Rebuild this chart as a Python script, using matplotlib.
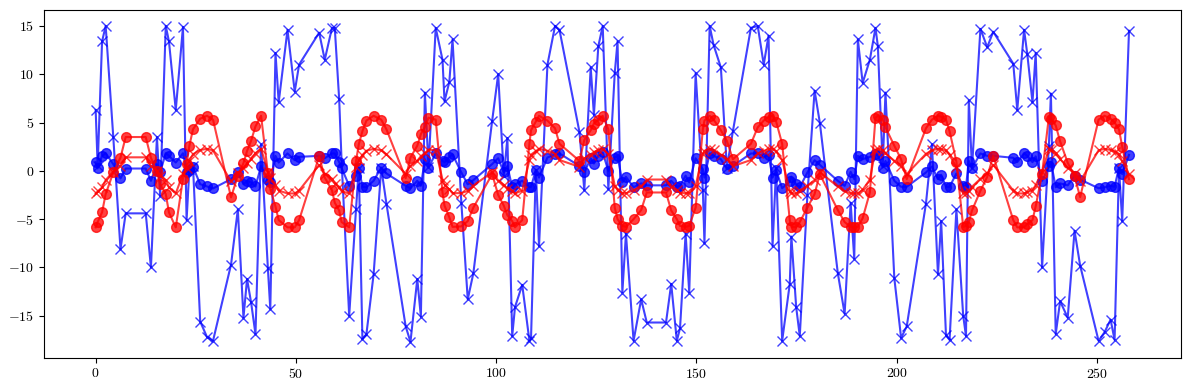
import numpy as np
import matplotlib
matplotlib.use("Agg")
import matplotlib.pyplot as plt

plt.rcParams['font.family'] = 'serif'
plt.rcParams['font.serif'] = ['cmr10']
plt.rcParams['mathtext.fontset'] = 'cm'
plt.rcParams['axes.formatter.use_mathtext'] = True

# sample positions (shared by all four series)
t = [0.0, 0.5, 1.6, 2.5, 4.4, 6.2, 7.5, 12.5, 13.8, 15.3,
     16.1, 17.5, 18.3, 20.0, 21.8, 22.7, 23.4, 24.3, 26.1, 27.8,
     29.3, 33.8, 35.5, 36.9, 37.8, 38.8, 39.9, 41.3, 43.0, 43.6,
     44.9, 45.7, 47.9, 49.7, 50.8, 55.8, 57.2, 59.0, 59.7, 60.8,
     61.4, 63.3, 65.0, 65.7, 66.6, 67.6, 69.4, 71.3, 72.6, 77.4,
     78.6, 80.3, 81.2, 82.2, 83.1, 84.9, 86.6, 87.1, 88.3, 89.1,
     91.3, 92.9, 94.3, 99.0, 100.5, 101.9, 102.8, 104.0, 104.7, 106.5,
     108.3, 108.7, 109.9, 110.7, 112.8, 114.7, 115.8, 120.8, 122.0, 123.6,
     124.4, 125.5, 126.6, 128.0, 129.6, 130.3, 131.5, 132.4, 134.3, 136.2,
     137.6, 142.4, 143.7, 145.1, 145.9, 147.3, 148.2, 149.8, 151.6, 152.0,
     153.3, 154.3, 156.1, 157.6, 159.1, 163.6, 165.3, 166.8, 168.0, 169.0,
     169.9, 171.4, 173.3, 173.7, 174.9, 175.8, 177.7, 179.5, 180.8, 185.3,
     187.0, 188.5, 189.4, 190.3, 191.5, 193.3, 194.7, 195.3, 196.5, 197.2,
     199.4, 201.1, 202.5, 207.3, 208.8, 210.3, 211.1, 212.3, 213.2, 214.9,
     216.6, 217.3, 218.0, 218.8, 220.9, 222.6, 224.1, 229.1, 230.1, 231.8,
     232.6, 233.9, 234.7, 236.3, 238.0, 238.5, 239.7, 240.8, 242.7, 244.4,
     245.8, 250.4, 251.9, 253.4, 254.4, 255.5, 256.3, 258.0]

# blue crosses
blue_x = [6.3, 0.5, 13.4, 15.0, 3.5, -8.1, -4.4, -4.4, -10.0, 3.5,
          -2.6, 15.0, 13.4, 6.3, 14.9, -5.1, 0.2, 0.5, -15.6, -17.2,
          -17.6, -9.7, -4.0, -15.2, -11.2, -13.6, -16.9, 2.75, -10.1, -14.3,
          12.2, 7.1, 14.6, 8.2, 11.0, 14.3, 11.5, 14.8, 14.8, 7.4,
          1.0, -15.0, -4.0, 0.3, -17.4, -16.9, -10.7, 0.3, -3.4, -16.1,
          -17.7, -11.2, -15.1, 8.1, 0.4, 14.8, 11.5, 7.2, 9.2, 13.6,
          -3.3, -13.3, -10.6, 5.2, 10.0, -0.5, 3.4, -17.1, -14.1, -11.8,
          -17.6, -17.3, 0.1, -7.8, 11.0, 15.0, 14.6, 4.0, -2.0, 10.7,
          5.8, 12.9, 15.0, -1.9, 10.1, 13.4, -12.6, -6.5, -17.6, -13.3,
          -15.7, -15.7, -11.7, -17.6, -16.3, -6.5, -12.6, 10.1, -2.0, -7.5,
          15.0, 13.0, 10.7, 0.34, 4.1, 14.8, 15.0, 11.0, 14.0, -7.8,
          0.3, -17.6, -11.7, -6.8, -14.1, -17.1, -2.5, 8.3, 5.0, -10.6,
          -14.8, -3.3, -9.1, 13.6, 9.1, 11.5, 14.8, 12.9, 0.5, 8.1,
          -11.1, -17.3, -16.1, -3.4, 2.75, -10.7, -5.2, -17.0, -17.5, -4.0,
          -15.0, -17.1, 7.3, 0.3, 14.7, 12.8, 14.4, 11.1, 6.3, 14.6,
          12.1, 7.1, 12.2, -10.0, 2.6, 8.0, -16.9, -13.5, -15.2, -6.2,
          -9.8, -17.6, -16.7, -15.4, -17.5, 0.3, -5.2, 14.5]

# blue circles
blue_o = [0.9, 0.25, 1.55, 1.82, 0.69, -0.78, 0.24, 0.24, -1.03, 0.69,
          -0.15, 1.82, 1.55, 0.86, 1.82, -0.17, 0.1, 0.41, -1.38, -1.62,
          -1.82, -0.86, -0.17, -1.38, -1.03, -1.2, -1.62, 0.5, -0.95, -1.2,
          1.55, 0.86, 1.8, 1.1, 1.45, 1.55, 1.3, 1.8, 1.8, 0.9,
          0.3, -1.55, -0.5, 0.34, -1.65, -1.7, -1.03, 0.34, -0.27, -1.55,
          -1.8, -1.03, -1.55, 1.2, 0.34, 1.8, 1.03, 0.9, 1.45, 1.7,
          -0.17, -1.4, -0.96, 0.7, 1.3, -0.17, 0.5, -1.7, -1.4, -1.03,
          -1.7, -1.65, 0.1, -0.7, 1.38, 1.7, 1.8, 0.5, -0.17, 1.3,
          0.76, 1.55, 1.9, 0.0, 1.38, 1.55, -1.2, -0.62, -1.7, -1.3,
          -1.5, -1.5, -1.03, -1.65, -1.55, -0.5, -1.2, 1.3, 0.17, -0.7,
          1.8, 1.55, 1.2, 0.17, 0.5, 1.8, 1.8, 1.38, 1.65, -0.7,
          0.07, -1.8, -1.1, -0.6, -1.4, -1.7, -0.17, 1.1, 0.62, -1.03,
          -1.55, -0.1, -0.86, 1.55, 1.2, 1.45, 1.7, 1.6, 0.34, 1.03,
          -1.03, -1.65, -1.65, -0.17, 0.45, -0.86, -0.41, -1.65, -1.65, -0.27,
          -1.55, -1.65, 1.03, 0.28, 1.8, 1.55, 1.55, 1.35, 0.9, 1.82,
          1.55, 0.9, 1.5, -1.03, 0.45, 0.95, -1.7, -1.3, -1.5, -0.5,
          -0.9, -1.8, -1.7, -1.55, -1.65, 0.34, -0.34, 1.65]

# red circles
red_o = [-5.85, -5.3, -4.3, -2.4, -0.17, 1.38, 3.5, 3.5, 1.35, -0.05,
         -1.38, -2.4, -4.3, -5.85, -0.8, 0.7, 2.6, 4.3, 5.4, 5.7,
         5.3, -2.75, -0.5, 0.79, 2.06, 3.1, 4.6, 5.7, -0.24, -1.9,
         -3.7, -5.1, -5.85, -5.85, -5.1, 1.5, -0.7, -2.0, -3.3, -4.1,
         -5.3, -5.85, 1.0, 2.75, 4.1, 5.2, 5.7, 5.3, 4.3, -0.76,
         1.38, 2.6, 3.8, 4.54, 5.5, 5.3, -2.24, -3.6, -4.8, -5.8,
         -5.75, -5.2, -3.8, -0.34, -2.5, -3.6, -4.6, -5.2, -5.85, -5.1,
         2.8, 4.2, 5.1, 5.7, 5.2, 4.4, 2.8, 1.03, 3.2, 4.2,
         4.9, 5.3, 5.7, 4.3, -3.8, -5.0, -5.7, -5.8, -5.0, -4.06,
         -2.24, -2.24, -4.1, -5.0, -5.7, -5.8, -5.7, -3.8, 4.3, 5.2,
         5.7, 5.3, 4.2, 3.1, 1.2, 2.8, 4.5, 5.2, 5.6, 5.7,
         5.1, 2.8, -5.1, -5.8, -5.85, -5.3, -3.8, -2.4, -0.34, -4.06,
         -5.3, -5.8, -5.85, -5.8, -4.9, -2.24, 5.5, 5.7, 5.3, 4.5,
         2.6, 1.2, -0.86, 4.4, 5.3, 5.7, 5.6, 5.3, 4.1, 0.96,
         -5.8, -5.7, -5.3, -4.1, -2.06, -0.62, 1.55, -5.1, -5.85, -5.85,
         -5.5, -5.1, -3.68, -0.3, 5.6, 5.4, 4.7, 3.05, 0.83, -0.55,
         -2.72, 5.3, 5.7, 5.4, 5.0, 4.3, 2.5, -0.86]

# red crosses
red_x = [-2.34, -2.12, -1.72, -0.96, -0.07, 0.55, 1.4, 1.4, 0.54, -0.02,
         -0.55, -0.96, -1.72, -2.34, -0.32, 0.28, 1.04, 1.72, 2.16, 2.28,
         2.12, -1.1, -0.2, 0.32, 0.82, 1.24, 1.84, 2.28, -0.1, -0.76,
         -1.48, -2.04, -2.34, -2.34, -2.04, 0.6, -0.28, -0.8, -1.32, -1.64,
         -2.12, -2.34, 0.4, 1.1, 1.64, 2.08, 2.28, 2.12, 1.72, -0.3,
         0.55, 1.04, 1.52, 1.82, 2.2, 2.12, -0.9, -1.44, -1.92, -2.32,
         -2.3, -2.08, -1.52, -0.14, -1.0, -1.44, -1.84, -2.08, -2.34, -2.04,
         1.12, 1.68, 2.04, 2.28, 2.08, 1.76, 1.12, 0.41, 1.28, 1.68,
         1.96, 2.12, 2.28, 1.72, -1.52, -2.0, -2.28, -2.32, -2.0, -1.62,
         -0.9, -0.9, -1.64, -2.0, -2.28, -2.32, -2.28, -1.52, 1.72, 2.08,
         2.28, 2.12, 1.68, 1.24, 0.48, 1.12, 1.8, 2.08, 2.24, 2.28,
         2.04, 1.12, -2.04, -2.32, -2.34, -2.12, -1.52, -0.96, -0.14, -1.62,
         -2.12, -2.32, -2.34, -2.32, -1.96, -0.9, 2.2, 2.28, 2.12, 1.8,
         1.04, 0.48, -0.34, 1.76, 2.12, 2.28, 2.24, 2.12, 1.64, 0.38,
         -2.32, -2.28, -2.12, -1.64, -0.82, -0.25, 0.62, -2.04, -2.34, -2.34,
         -2.2, -2.04, -1.47, -0.12, 2.24, 2.16, 1.88, 1.22, 0.33, -0.22,
         -1.09, 2.12, 2.28, 2.16, 2.0, 1.72, 1.0, -0.34]

fig = plt.figure(figsize=(11.89, 3.9), dpi=100)
plt.plot(t, blue_x, 'x-', color='blue', alpha=0.75, markersize=7)
plt.plot(t, blue_o, 'o-', color='blue', alpha=0.75, markersize=7)
plt.plot(t, red_o, 'o-', color='red', alpha=0.75, markersize=7)
plt.plot(t, red_x, 'x-', color='red', alpha=0.75, markersize=7)
plt.subplots_adjust(left=0.037, right=0.993, top=0.974, bottom=0.083)
plt.savefig('out.png', dpi=100)
